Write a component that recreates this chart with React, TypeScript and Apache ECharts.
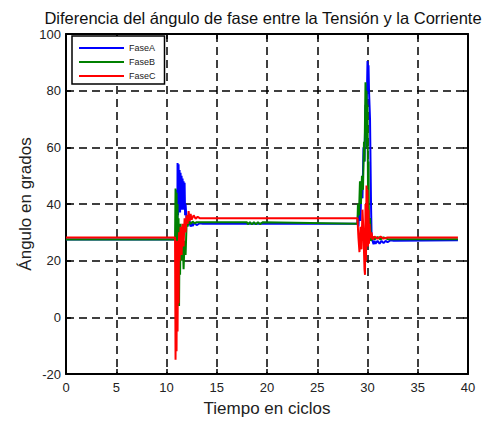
import React, { useEffect, useRef } from "react";
import * as echarts from "echarts";

const titleText = "Diferencia del ángulo de fase entre la Tensión y la Corriente";
const xName = "Tiempo en ciclos";
const yName = "Ángulo en grados";
const seriesNames = ["FaseA", "FaseB", "FaseC"];
const seriesColors = ["#0000ff", "#008000", "#ff0000"];

const faseA: [number, number][] = [
  [0, 27.5], [10.9, 27.5], [11.0, 30], [11.05, 45], [11.08, 32], [11.1, 54.5], [11.15, 36],
  [11.2, 54], [11.25, 37], [11.3, 52], [11.35, 37], [11.4, 51], [11.45, 38], [11.5, 50],
  [11.55, 38], [11.6, 49], [11.65, 39], [11.7, 48], [11.75, 38], [11.8, 47.5], [11.85, 36],
  [11.9, 40], [12.0, 34], [12.1, 36], [12.2, 32.5], [12.3, 34], [12.4, 32], [12.5, 33.5],
  [12.6, 32.2], [12.8, 33.4], [13.0, 32.5], [13.3, 33.2], [13.6, 33], [29.0, 33],
  [29.05, 36], [29.1, 32], [29.2, 40], [29.3, 34], [29.4, 48], [29.5, 42], [29.6, 60],
  [29.7, 55], [29.8, 75], [29.9, 70], [30.0, 90.5], [30.05, 86], [30.1, 89], [30.15, 80],
  [30.2, 75], [30.25, 70], [30.3, 55], [30.35, 40], [30.4, 30], [30.5, 27], [30.6, 25.8],
  [30.7, 27], [30.8, 26], [31.0, 27], [31.2, 26], [31.4, 27], [31.6, 26.2], [31.8, 27],
  [32.0, 26.5], [32.3, 27.2], [32.6, 27], [39, 27.2],
];

const faseB: [number, number][] = [
  [0, 27.5], [10.85, 27.5], [10.9, 45.5], [10.95, 28], [11.0, 44], [11.05, 20], [11.1, 40],
  [11.15, 8], [11.2, 35], [11.25, 4], [11.3, 30], [11.35, 15], [11.4, 33], [11.5, 20],
  [11.6, 28], [11.7, 17], [11.8, 27], [11.9, 22], [12.0, 33], [12.1, 32], [12.2, 34],
  [12.4, 33], [12.6, 33.8], [12.8, 33.2], [13.0, 33.6], [18.0, 33.6], [18.1, 32.8],
  [18.3, 33.6], [18.5, 32.8], [18.7, 33.6], [18.9, 32.8], [19.1, 33.6], [19.3, 32.9],
  [19.6, 33.6], [29.0, 33], [29.05, 40], [29.15, 36], [29.25, 48], [29.35, 40], [29.45, 50],
  [29.55, 45], [29.65, 62], [29.7, 55], [29.8, 83], [29.85, 70], [29.9, 80], [29.95, 60],
  [30.0, 75], [30.05, 45], [30.1, 55], [30.15, 30], [30.25, 35], [30.35, 27], [30.5, 28.5],
  [30.7, 27.5], [31.0, 28.3], [31.3, 27.5], [31.6, 28.2], [32, 27.6], [39, 27.6],
];

const faseC: [number, number][] = [
  [0, 28.2], [10.85, 28.2], [10.9, -15], [10.95, 25], [11.0, -12], [11.05, 27], [11.1, -5],
  [11.15, 26], [11.2, 5], [11.25, 30], [11.3, 20], [11.4, 32], [11.5, 22], [11.6, 33],
  [11.7, 25], [11.8, 35], [11.9, 30], [12.0, 36], [12.1, 33], [12.2, 37.5], [12.3, 34],
  [12.4, 36.5], [12.5, 34.5], [12.7, 36], [12.9, 34.8], [13.1, 35.5], [13.3, 35], [29.0, 35],
  [29.1, 28], [29.2, 23], [29.3, 32], [29.4, 24], [29.5, 38], [29.6, 30], [29.7, 17],
  [29.75, 15], [29.8, 40], [29.85, 20], [29.9, 46.5], [29.95, 30], [30.0, 45], [30.05, 25],
  [30.1, 38], [30.15, 26], [30.2, 33], [30.3, 28], [30.4, 30], [30.5, 27.5], [30.7, 28.5],
  [31, 27.8], [31.3, 28.5], [31.6, 27.8], [32, 28.2], [39, 28.2],
];

const seriesData = [faseA, faseB, faseC];

export default function App() {
  const ref = useRef<HTMLDivElement>(null);
  useEffect(() => {
    const chart = echarts.init(ref.current!, null, { renderer: "svg" });
    const font = "'Liberation Sans', Arial, sans-serif";
    const axisLine = { show: true, onZero: false, lineStyle: { color: "#000", width: 2 } };
    const tick = { show: true, inside: true, length: 5, lineStyle: { color: "#000", width: 1.5 } };
    const split = { show: true, lineStyle: { color: "#000", type: [8, 5], width: 1.5 } };
    const label = { color: "#222", fontSize: 13, fontFamily: font };
    chart.setOption({
      animation: false,
      backgroundColor: "#fff",
      grid: { left: 66, right: 27, top: 34, bottom: 48 },
      graphic: [
        {
          type: "text",
          x: 263,
          y: 9,
          style: { text: titleText, fontSize: 16.5, fontFamily: font, fill: "#111", textAlign: "center" },
        },
      ],
      legend: {
        orient: "vertical",
        left: 72,
        top: 36,
        padding: [7, 9, 3, 7],
        itemGap: 4,
        itemWidth: 45,
        itemHeight: 2,
        icon: "rect",
        backgroundColor: "#fff",
        borderColor: "#000",
        borderWidth: 1.5,
        borderRadius: 0,
        textStyle: { fontSize: 9, fontFamily: font, color: "#222", lineHeight: 10 },
        data: seriesNames,
      },
      xAxis: [
        {
          type: "value", min: 0, max: 40, interval: 5, position: "bottom",
          axisLine, axisTick: tick, axisLabel: { ...label, margin: 7 }, splitLine: split,
          name: xName, nameLocation: "middle", nameGap: 26, nameMoveOverlap: false,
          nameTextStyle: { fontSize: 17, fontFamily: font, color: "#222" },
        },
        {
          type: "value", min: 0, max: 40, interval: 5, position: "top",
          axisLine, axisTick: tick, axisLabel: { show: false }, splitLine: { show: false },
        },
      ],
      yAxis: [
        {
          type: "value", min: -20, max: 100, interval: 20, position: "left",
          axisLine, axisTick: tick, axisLabel: { ...label, margin: 5 }, splitLine: split,
          name: yName, nameLocation: "middle", nameGap: 32, nameMoveOverlap: false,
          nameTextStyle: { fontSize: 17, fontFamily: font, color: "#222" },
        },
        {
          type: "value", min: -20, max: 100, interval: 20, position: "right",
          axisLine, axisTick: tick, axisLabel: { show: false }, splitLine: { show: false },
        },
      ],
      series: seriesData.map((d, i) => ({
        name: seriesNames[i],
        type: "line",
        xAxisIndex: 0,
        yAxisIndex: 0,
        data: d,
        showSymbol: false,
        symbol: "none",
        color: seriesColors[i],
        lineStyle: { color: seriesColors[i], width: 2 },
      })),
    });
    return () => chart.dispose();
  }, []);
  return (
    <div
      ref={ref}
      style={{ position: "fixed", left: 0, top: 0, width: 495, height: 422, background: "#fff" }}
    />
  );
}
